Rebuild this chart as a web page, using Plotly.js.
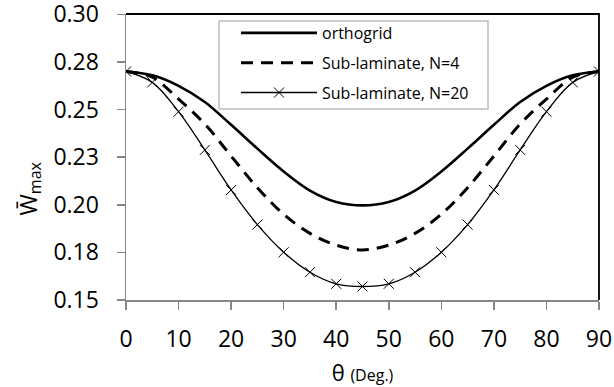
<!DOCTYPE html>
<html>
<head>
<meta charset="utf-8">
<script src="https://cdn.plot.ly/plotly-3.0.1.min.js"></script>
<style>html,body{margin:0;padding:0;background:#fff}#chart{width:614px;height:387px}</style>
</head>
<body>
<div id="chart"></div>
<script>
var theta = [0,5,10,15,20,25,30,35,40,45,50,55,60,65,70,75,80,85,90];
var orthogrid = [0.270,0.268,0.2625,0.254,0.242,0.2295,0.2175,0.2075,0.2015,0.1997,0.2015,0.2075,0.2175,0.2295,0.242,0.254,0.2625,0.268,0.270];
var subN4 = [0.270,0.267,0.2555,0.2424,0.2256,0.209,0.195,0.185,0.1788,0.1763,0.1788,0.185,0.195,0.209,0.2256,0.2424,0.2555,0.267,0.270];
var subN20 = [0.270,0.2643,0.2489,0.2288,0.2078,0.1896,0.1751,0.1646,0.1585,0.1571,0.1585,0.1646,0.1751,0.1896,0.2078,0.2288,0.2489,0.2643,0.270];
var names = ['orthogrid','Sub-laminate, N=4','Sub-laminate, N=20'];
var yTickVals = [0.15,0.175,0.2,0.225,0.25,0.275,0.3];
var yTickText = ['0.15','0.18','0.20','0.23','0.25','0.28','0.30'];
var xTickVals = [0,10,20,30,40,50,60,70,80,90];

var FONT = 'Open Sans, Liberation Sans, sans-serif';
var traces = [
  {x: theta, y: orthogrid, name: names[0], legendgroup: 'a', mode: 'lines',
   line: {color: '#000', width: 2.6, shape: 'spline', smoothing: 1}},
  {x: theta, y: subN4, name: names[1], legendgroup: 'b', mode: 'lines',
   line: {color: '#000', width: 3, dash: '12px,8px', shape: 'spline', smoothing: 1}},
  {x: theta, y: subN20, name: names[2], legendgroup: 'c', mode: 'lines+markers',
   line: {color: '#000', width: 1.3, shape: 'spline', smoothing: 1},
   marker: {symbol: 'x-thin', size: 10, color: '#000', line: {color: '#000', width: 1}}}
];
var layout = {
  width: 614, height: 387,
  margin: {l: 126, r: 15, t: 14, b: 87},
  paper_bgcolor: '#fff', plot_bgcolor: '#fff',
  font: {family: FONT, color: '#000'},
  showlegend: true,
  legend: {x: (236 - 126) / 473, y: 0.993, xanchor: 'left', yanchor: 'top',
    bgcolor: 'rgba(0,0,0,0)', borderwidth: 0,
    font: {family: FONT, size: 16, color: '#000'},
    traceorder: 'grouped', tracegroupgap: 6, itemwidth: 76},
  xaxis: {range: [0, 90], tickvals: xTickVals, ticks: 'outside', ticklen: 8, tickwidth: 1.5,
    tickcolor: '#868686', showline: true, linecolor: '#868686', linewidth: 1.5,
    showgrid: false, zeroline: false, tickfont: {family: FONT, size: 23, color: '#000'},
    ticklabelstandoff: 10, ticklabeloverflow: 'allow',
    title: {text: 'θ <span style="font-size:16px">(Deg.)</span>', font: {family: FONT, size: 22, color: '#000'}, standoff: 12}},
  yaxis: {range: [0.15, 0.3002], tickvals: yTickVals, ticktext: yTickText, ticks: 'outside', ticklen: 8, tickwidth: 1.5,
    tickcolor: '#868686', showline: true, linecolor: '#868686', linewidth: 1.5,
    showgrid: false, zeroline: false, tickfont: {family: FONT, size: 23, color: '#000'},
    ticklabelstandoff: 13, ticklabeloverflow: 'allow'},
  shapes: [
    {type: 'path', xref: 'paper', yref: 'paper', path: 'M0,1 L1,1 L1,0', line: {color: '#000', width: 1.8}, layer: 'above'},
    {type: 'rect', xref: 'paper', yref: 'paper', x0: (219 - 126) / 473, x1: (488 - 126) / 473,
     y0: (300 - 109) / 286, y1: (300 - 21) / 286, line: {color: '#bfbfbf', width: 1.5}, fillcolor: '#fff', layer: 'above'}
  ],
  annotations: [
    {xref: 'paper', yref: 'paper', x: -0.205, y: 0.39, xanchor: 'center', yanchor: 'middle',
     text: 'W\u0304<sub>max</sub>', textangle: -90, showarrow: false,
     font: {family: FONT, size: 23, color: '#000'}}
  ]
};
Plotly.newPlot('chart', traces, layout, {displayModeBar: false, staticPlot: true});
</script>
</body>
</html>
